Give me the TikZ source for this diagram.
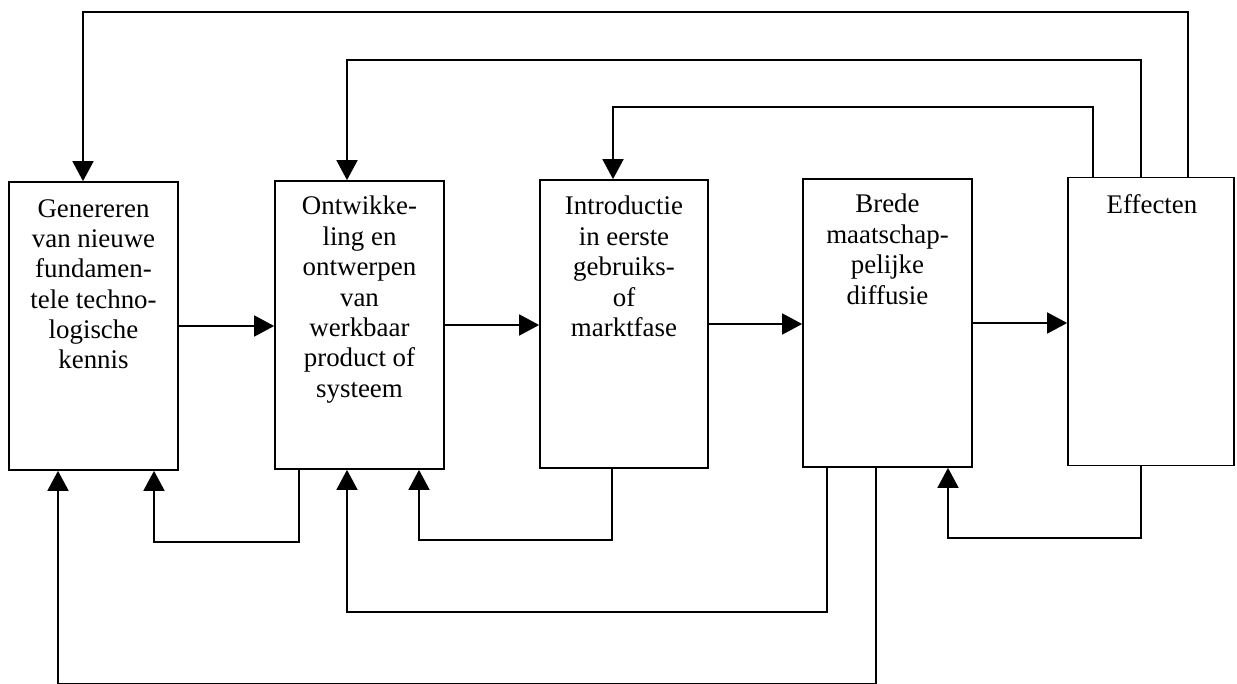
\documentclass[tikz,border=0pt]{standalone}
\usepackage{fontspec}
\setmainfont{Liberation Serif}
\usetikzlibrary{arrows.meta}
\begin{document}
\begin{tikzpicture}[x=1bp,y=-1bp,
  stagebox/.style={draw, line width=1.7bp, minimum width=#1, inner sep=0pt, minimum height=288bp},
  stagetext/.style={anchor=north, align=center, inner sep=0pt, font=\fontsize{27}{30.5}\selectfont},
  arr/.style={line width=1.7bp, -{Triangle[length=20bp,width=21bp]}}]
\path[use as bounding box] (0,0) rectangle (1237,684);
\clip (0,0) rectangle (1237,684);
% boxes
\node[stagebox=169bp] (b1) at (93.5,326) {};
\node[stagebox=169bp] (b2) at (359.5,325) {};
\node[stagebox=168bp] (b3) at (624,324) {};
\node[stagebox=169bp] (b4) at (887.5,323) {};
\node[stagebox=166bp] (b5) at (1151,321.5) {};
% texts
\node[stagetext] (t1) at (93.5,199) {Genereren\\van nieuwe\\fundamen-\\tele techno-\\logische\\kennis};
\node[stagetext] (t2) at (359.5,196) {Ontwikke-\\ling en\\ontwerpen\\van\\werkbaar\\product of\\systeem};
\node[stagetext] (t3) at (624,196) {Introductie\\in eerste\\gebruiks-\\of\\marktfase};
\node[stagetext] (t4) at (887.5,194) {Brede\\maatschap-\\pelijke\\diffusie};
\node[stagetext] (t5) at (1152,194) {Effecten};
% forward arrows
\draw[arr] (b1.east) -- (b1.east -| b2.west);
\draw[arr] (b2.east) -- (b2.east -| b3.west);
\draw[arr] (b3.east) -- (b3.east -| b4.west);
\draw[arr] (b4.east) -- (b4.east -| b5.west);
% helper coordinates
\coordinate (c1) at (1188,12);   \coordinate (d1) at (83,12);
\coordinate (c2) at (1141,60);   \coordinate (d2) at (347,60);
\coordinate (c3) at (1093,107);  \coordinate (d3) at (613,107);
\coordinate (c4) at (299,542);   \coordinate (d4) at (154,542);
\coordinate (c5) at (612,540);   \coordinate (d5) at (419,540);
\coordinate (c6) at (827,612);   \coordinate (d6) at (347,612);
\coordinate (c7) at (876,684);   \coordinate (d7) at (58,684);
\coordinate (c8) at (1141,538);  \coordinate (d8) at (948,538);
% top feedback loops
\draw[arr] (c1 |- b5.north) -- (c1) -- (d1) -- (d1 |- b1.north);
\draw[arr] (c2 |- b5.north) -- (c2) -- (d2) -- (d2 |- b2.north);
\draw[arr] (c3 |- b5.north) -- (c3) -- (d3) -- (d3 |- b3.north);
% bottom feedback loops
\draw[arr] (c4 |- b2.south) -- (c4) -- (d4) -- (d4 |- b1.south);
\draw[arr] (c5 |- b3.south) -- (c5) -- (d5) -- (d5 |- b2.south);
\draw[arr] (c6 |- b4.south) -- (c6) -- (d6) -- (d6 |- b2.south);
\draw[arr] (c7 |- b4.south) -- (c7) -- (d7) -- (d7 |- b1.south);
\draw[arr] (c8 |- b5.south) -- (c8) -- (d8) -- (d8 |- b4.south);
\end{tikzpicture}
\end{document}
